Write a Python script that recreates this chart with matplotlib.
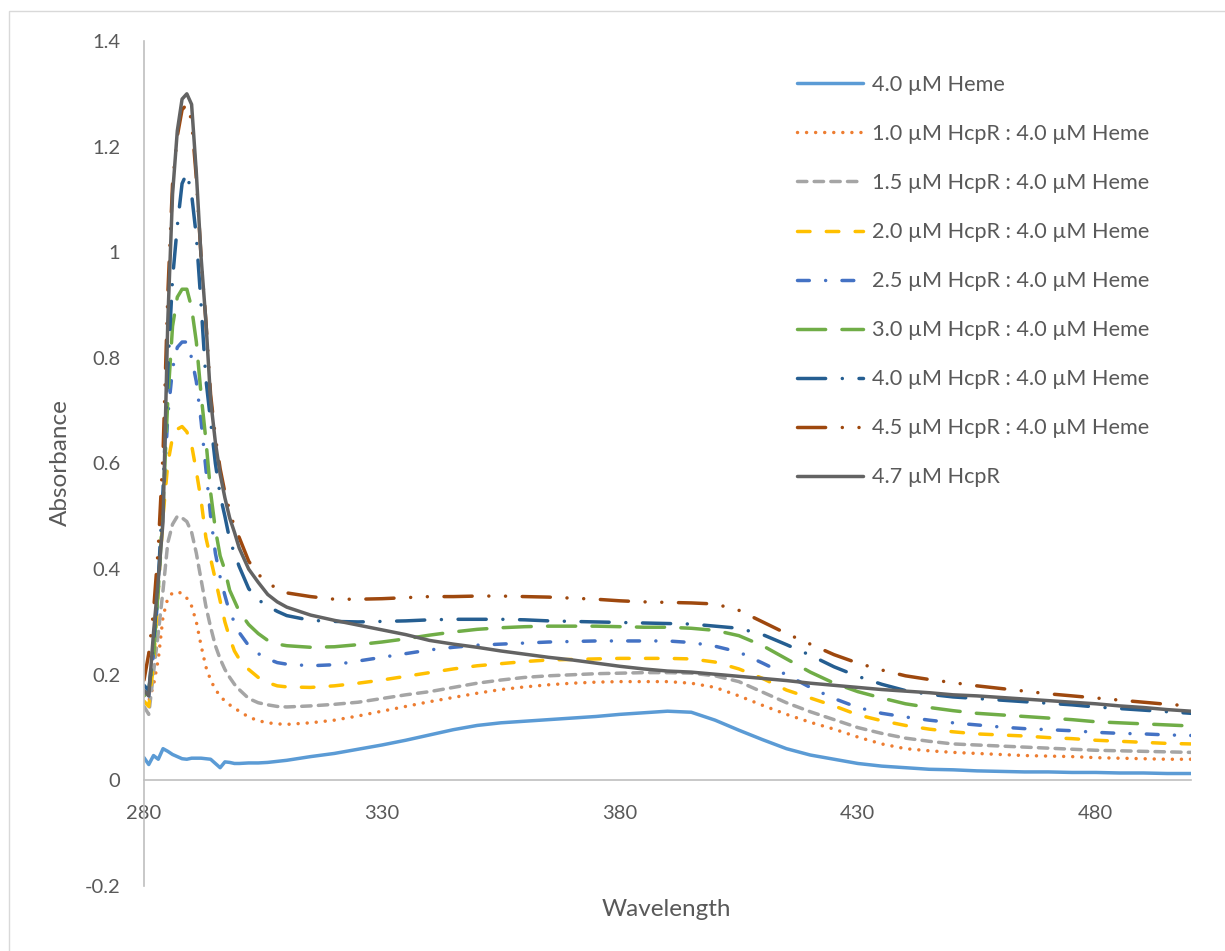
import matplotlib
matplotlib.use("Agg")
import matplotlib.pyplot as plt
from matplotlib.patches import Rectangle

plt.rcParams['font.family'] = ['Lato', 'DejaVu Sans']

# Wavelength grid (nm)
wavelength = list(range(280, 301)) + [302, 304, 306, 308, 310] + list(range(315, 501, 5))

heme_only = [0.043, 0.030, 0.047, 0.040, 0.060, 0.055, 0.049, 0.045, 0.041, 0.040, 0.042,
             0.042, 0.042, 0.041, 0.040, 0.032, 0.024, 0.035, 0.034, 0.032, 0.032,
             0.033, 0.033, 0.034, 0.036, 0.038,
             0.045, 0.051, 0.059, 0.067, 0.076, 0.086, 0.096, 0.104, 0.109, 0.112,
             0.115, 0.118, 0.121, 0.125, 0.128, 0.131, 0.129, 0.114, 0.095, 0.077,
             0.060, 0.048, 0.040, 0.032, 0.027, 0.024, 0.021, 0.020, 0.018, 0.017,
             0.016, 0.016, 0.015, 0.015, 0.014, 0.014, 0.013, 0.013]

hcpr_1_0 = [0.160, 0.150, 0.180, 0.229, 0.310, 0.345, 0.355, 0.357, 0.354, 0.345, 0.330,
            0.300, 0.255, 0.215, 0.190, 0.172, 0.160, 0.150, 0.143, 0.137, 0.131,
            0.120, 0.113, 0.109, 0.107, 0.106,
            0.109, 0.114, 0.122, 0.131, 0.140, 0.149, 0.157, 0.165, 0.172, 0.177,
            0.181, 0.184, 0.186, 0.187, 0.187, 0.187, 0.184, 0.176, 0.160, 0.142,
            0.125, 0.110, 0.097, 0.082, 0.069, 0.060, 0.056, 0.053, 0.051, 0.049,
            0.047, 0.046, 0.045, 0.043, 0.042, 0.041, 0.040, 0.040]

hcpr_1_5 = [0.140, 0.125, 0.204, 0.279, 0.360, 0.450, 0.485, 0.500, 0.497, 0.490, 0.470,
            0.430, 0.380, 0.330, 0.290, 0.255, 0.230, 0.210, 0.195, 0.182, 0.172,
            0.155, 0.147, 0.143, 0.140, 0.139,
            0.141, 0.144, 0.148, 0.155, 0.162, 0.168, 0.176, 0.184, 0.190, 0.195,
            0.198, 0.200, 0.202, 0.203, 0.204, 0.204, 0.203, 0.198, 0.187, 0.167,
            0.147, 0.130, 0.115, 0.100, 0.089, 0.080, 0.074, 0.069, 0.067, 0.065,
            0.063, 0.061, 0.059, 0.057, 0.056, 0.055, 0.054, 0.053]

hcpr_2_0 = [0.150, 0.140, 0.220, 0.360, 0.500, 0.600, 0.650, 0.665, 0.670, 0.660, 0.635,
            0.585, 0.530, 0.460, 0.420, 0.380, 0.340, 0.300, 0.270, 0.245, 0.230,
            0.210, 0.195, 0.185, 0.179, 0.177,
            0.176, 0.179, 0.184, 0.190, 0.197, 0.204, 0.211, 0.217, 0.221, 0.225,
            0.228, 0.229, 0.230, 0.231, 0.231, 0.231, 0.230, 0.224, 0.211, 0.193,
            0.171, 0.156, 0.141, 0.124, 0.113, 0.104, 0.097, 0.092, 0.088, 0.086,
            0.084, 0.081, 0.079, 0.076, 0.074, 0.072, 0.070, 0.069]

hcpr_2_5 = [0.170, 0.160, 0.240, 0.360, 0.520, 0.690, 0.780, 0.820, 0.830, 0.830, 0.800,
            0.755, 0.680, 0.590, 0.500, 0.430, 0.385, 0.350, 0.318, 0.300, 0.280,
            0.255, 0.240, 0.230, 0.223, 0.220,
            0.217, 0.219, 0.226, 0.233, 0.240, 0.247, 0.252, 0.256, 0.258, 0.260,
            0.262, 0.263, 0.264, 0.264, 0.264, 0.264, 0.261, 0.254, 0.243, 0.222,
            0.200, 0.176, 0.155, 0.138, 0.127, 0.120, 0.114, 0.109, 0.105, 0.101,
            0.098, 0.096, 0.094, 0.091, 0.089, 0.088, 0.086, 0.085]

hcpr_3_0 = [0.160, 0.170, 0.240, 0.360, 0.520, 0.720, 0.860, 0.915, 0.930, 0.930, 0.895,
            0.830, 0.730, 0.645, 0.545, 0.475, 0.425, 0.398, 0.360, 0.340, 0.320,
            0.295, 0.278, 0.265, 0.258, 0.255,
            0.252, 0.253, 0.257, 0.262, 0.268, 0.275, 0.281, 0.286, 0.289, 0.291,
            0.292, 0.292, 0.292, 0.291, 0.290, 0.290, 0.288, 0.284, 0.274, 0.255,
            0.230, 0.205, 0.184, 0.168, 0.156, 0.145, 0.138, 0.132, 0.127, 0.124,
            0.121, 0.118, 0.115, 0.111, 0.109, 0.107, 0.105, 0.103]

hcpr_4_0 = [0.180, 0.170, 0.260, 0.380, 0.550, 0.780, 0.950, 1.050, 1.130, 1.150, 1.110,
            1.030, 0.900, 0.760, 0.680, 0.600, 0.540, 0.500, 0.456, 0.430, 0.405,
            0.363, 0.342, 0.330, 0.320, 0.312,
            0.303, 0.301, 0.300, 0.301, 0.302, 0.304, 0.305, 0.305, 0.305, 0.304,
            0.302, 0.301, 0.300, 0.299, 0.298, 0.297, 0.296, 0.292, 0.288, 0.276,
            0.257, 0.237, 0.215, 0.197, 0.182, 0.170, 0.163, 0.158, 0.155, 0.152,
            0.149, 0.146, 0.143, 0.139, 0.136, 0.133, 0.130, 0.127]

hcpr_4_5 = [0.190, 0.240, 0.320, 0.440, 0.620, 0.920, 1.130, 1.220, 1.270, 1.280, 1.250,
            1.140, 0.990, 0.870, 0.730, 0.650, 0.590, 0.545, 0.510, 0.480, 0.460,
            0.415, 0.390, 0.375, 0.362, 0.355,
            0.348, 0.343, 0.343, 0.344, 0.346, 0.348, 0.348, 0.349, 0.349, 0.348,
            0.347, 0.345, 0.343, 0.340, 0.338, 0.337, 0.336, 0.334, 0.322, 0.300,
            0.278, 0.258, 0.238, 0.222, 0.209, 0.198, 0.191, 0.185, 0.179, 0.174,
            0.169, 0.164, 0.160, 0.156, 0.152, 0.148, 0.144, 0.141]

hcpr_only = [0.170, 0.160, 0.280, 0.380, 0.490, 0.870, 1.110, 1.230, 1.290, 1.300, 1.280,
             1.150, 0.990, 0.870, 0.720, 0.640, 0.580, 0.535, 0.497, 0.470, 0.440,
             0.400, 0.375, 0.352, 0.338, 0.328,
             0.313, 0.303, 0.294, 0.285, 0.276, 0.265, 0.258, 0.252, 0.245, 0.239,
             0.233, 0.228, 0.222, 0.216, 0.211, 0.207, 0.205, 0.201, 0.197, 0.193,
             0.189, 0.184, 0.180, 0.176, 0.172, 0.169, 0.166, 0.162, 0.160, 0.157,
             0.154, 0.151, 0.148, 0.145, 0.141, 0.138, 0.134, 0.131]

labels = ["4.0 µM Heme",
          "1.0 µM HcpR : 4.0 µM Heme",
          "1.5 µM HcpR : 4.0 µM Heme",
          "2.0 µM HcpR : 4.0 µM Heme",
          "2.5 µM HcpR : 4.0 µM Heme",
          "3.0 µM HcpR : 4.0 µM Heme",
          "4.0 µM HcpR : 4.0 µM Heme",
          "4.5 µM HcpR : 4.0 µM Heme",
          "4.7 µM HcpR"]

series = [heme_only, hcpr_1_0, hcpr_1_5, hcpr_2_0, hcpr_2_5,
          hcpr_3_0, hcpr_4_0, hcpr_4_5, hcpr_only]

colors = ["#5B9BD5", "#ED7D31", "#A5A5A5", "#FFC000", "#4472C4",
          "#70AD47", "#255E91", "#9E480E", "#636363"]

# dash patterns in units of line width (round caps)
dashes = [None,
          (0, (0.01, 2.6)),
          (0, (2.7, 2.1)),
          (0, (3.6, 4.7)),
          (0, (3.4, 4.7, 0.01, 4.7)),
          (0, (8.1, 4.7)),
          (0, (8.1, 4.8, 0.01, 4.8)),
          (0, (8.1, 4.8, 0.01, 4.8, 0.01, 4.8)),
          None]

yticks = [-0.2, 0, 0.2, 0.4, 0.6, 0.8, 1.0, 1.2, 1.4]
xticks = [280, 330, 380, 430, 480]

W, H = 1225, 951
fig = plt.figure(figsize=(W / 100, H / 100), dpi=100)
fig.patch.set_facecolor("white")

# chart-area border (left and top edges visible)
fig.add_artist(Rectangle((9 / W, -0.2), 1.2, 1 - 11 / H + 0.2,
                         transform=fig.transFigure, fill=False,
                         edgecolor="#D9D9D9", linewidth=1.0))

ax = fig.add_axes([144 / W, 1 - 886 / H, (1191 - 144) / W, (886 - 41) / H])

lw = 2.5
for y, lab, c, d in zip(series, labels, colors, dashes):
    kw = dict(color=c, linewidth=lw, label=lab,
              solid_capstyle="round", dash_capstyle="round",
              solid_joinstyle="round")
    if d is None:
        ax.plot(wavelength, y, linestyle="-", **kw)
    else:
        ax.plot(wavelength, y, linestyle=d, **kw)

ax.set_xlim(280, 500)
ax.set_ylim(-0.2, 1.4)

for s in ["top", "right"]:
    ax.spines[s].set_visible(False)
ax.spines["bottom"].set_position(("data", 0))
ax.spines["bottom"].set_color("#BFBFBF")
ax.spines["left"].set_color("#BFBFBF")
ax.spines["bottom"].set_linewidth(1.2)
ax.spines["left"].set_linewidth(1.2)

ax.set_xticks(xticks)
ax.set_xticklabels([str(t) for t in xticks])
ax.set_yticks(yticks)
ax.set_yticklabels([f"{t:g}" for t in yticks])
ax.tick_params(axis="both", length=0, labelsize=14.5, labelcolor="#595959")
ax.tick_params(axis="y", pad=17)
ax.tick_params(axis="x", pad=18)

fig.text(60 / W, 1 - 463 / H, "Absorbance", rotation=90, ha="center", va="center",
         fontsize=17.5, color="#595959")
fig.text(666 / W, 1 - 909 / H, "Wavelength", ha="center", va="center",
         fontsize=17.5, color="#595959")

leg = ax.legend(loc="upper left", bbox_to_anchor=(797 / W, 1 - 75 / H),
                bbox_transform=fig.transFigure, frameon=False,
                fontsize=15.6, handlelength=3.05, handletextpad=0.4,
                labelspacing=1.34, borderaxespad=0, borderpad=0)
for t in leg.get_texts():
    t.set_color("#595959")

fig.savefig("out.png", dpi=100, facecolor="white")
